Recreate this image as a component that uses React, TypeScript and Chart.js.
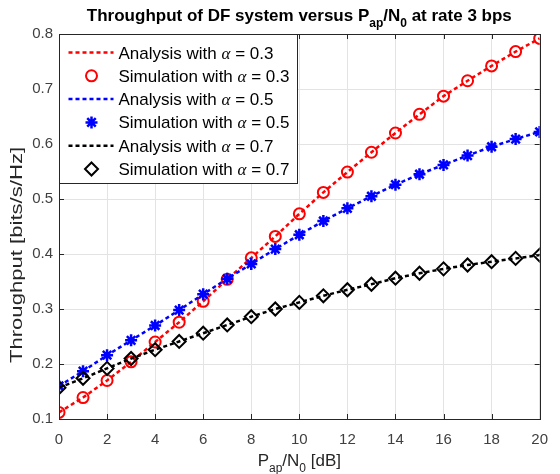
import React, { useEffect, useRef } from "react";
import { Chart, registerables } from "chart.js";

Chart.register(...registerables);

// SNR axis (dB) and throughput curves for each power-splitting factor
const snrDb = [0, 1, 2, 3, 4, 5, 6, 7, 8, 9, 10, 11, 12, 13, 14, 15, 16, 17, 18, 19, 20];
const throughputAlpha03 = [
  0.112, 0.139, 0.170, 0.204, 0.240, 0.276, 0.314, 0.354, 0.393, 0.432, 0.473,
  0.512, 0.549, 0.585, 0.620, 0.654, 0.687, 0.715, 0.742, 0.768, 0.792,
];
const throughputAlpha05 = [
  0.160, 0.187, 0.216, 0.243, 0.270, 0.298, 0.327, 0.355, 0.382, 0.409, 0.435,
  0.460, 0.483, 0.505, 0.526, 0.545, 0.562, 0.579, 0.595, 0.609, 0.622,
];
const throughputAlpha07 = [
  0.157, 0.174, 0.192, 0.210, 0.226, 0.241, 0.256, 0.271, 0.286, 0.300, 0.312,
  0.324, 0.335, 0.345, 0.356, 0.365, 0.373, 0.380, 0.386, 0.392, 0.398,
];
const alphaValues = ["0.3", "0.5", "0.7"];
const xTickStep = 2;
const yTickStep = 0.1;

const SANS = '"Liberation Sans", Arial, Helvetica, sans-serif';
const SERIF = '"Liberation Serif", "Times New Roman", serif';
const AXIS_COLOR = "#262626";

type Marker = "circle" | "star" | "rectRot";
type Series = { alpha: string; values: number[]; color: string; marker: Marker; radius: number; fill: string };

const series: Series[] = [
  { alpha: alphaValues[0], values: throughputAlpha03, color: "#ff0000", marker: "circle", radius: 5.5, fill: "rgba(0,0,0,0)" },
  { alpha: alphaValues[1], values: throughputAlpha05, color: "#0000ff", marker: "star", radius: 6, fill: "#0000ff" },
  { alpha: alphaValues[2], values: throughputAlpha07, color: "#000000", marker: "rectRot", radius: 6.5, fill: "rgba(0,0,0,0)" },
];

type Part = { text: string; sub?: boolean; serif?: boolean; italic?: boolean };

function fontFor(p: Part, size: number, subSize: number, weight: string) {
  return `${p.italic ? "italic " : ""}${weight} ${p.sub ? subSize : size}px ${p.serif ? SERIF : SANS}`;
}

// Draws text made of runs, some of them lowered as subscripts
function drawRich(
  ctx: CanvasRenderingContext2D,
  parts: Part[],
  x: number,
  y: number,
  size: number,
  subSize: number,
  weight: string,
  align: "center" | "left",
  subShift: number
) {
  ctx.save();
  ctx.textBaseline = "alphabetic";
  ctx.textAlign = "left";
  const widths = parts.map((p) => {
    ctx.font = fontFor(p, size, subSize, weight);
    return ctx.measureText(p.text).width;
  });
  const total = widths.reduce((a, b) => a + b, 0);
  let cx = align === "center" ? x - total / 2 : x;
  parts.forEach((p, i) => {
    ctx.font = fontFor(p, size, subSize, weight);
    ctx.fillText(p.text, cx, p.sub ? y + subShift : y);
    cx += widths[i];
  });
  ctx.restore();
}

function drawMarker(ctx: CanvasRenderingContext2D, s: Series, x: number, y: number) {
  ctx.save();
  ctx.strokeStyle = s.color;
  ctx.fillStyle = s.fill;
  ctx.lineWidth = 2;
  const r = s.radius;
  ctx.beginPath();
  if (s.marker === "circle") {
    ctx.arc(x, y, r, 0, Math.PI * 2);
    ctx.stroke();
  } else if (s.marker === "rectRot") {
    ctx.moveTo(x, y - r);
    ctx.lineTo(x + r, y);
    ctx.lineTo(x, y + r);
    ctx.lineTo(x - r, y);
    ctx.closePath();
    ctx.stroke();
  } else {
    ctx.lineWidth = 2.5;
    const d = r * Math.SQRT1_2;
    ctx.moveTo(x - r, y);
    ctx.lineTo(x + r, y);
    ctx.moveTo(x, y - r);
    ctx.lineTo(x, y + r);
    ctx.moveTo(x - d, y - d);
    ctx.lineTo(x + d, y + d);
    ctx.moveTo(x - d, y + d);
    ctx.lineTo(x + d, y - d);
    ctx.stroke();
  }
  ctx.restore();
}

const framePlugin = {
  id: "matlabFrame",
  afterDatasetsDraw(chart: any) {
    const { ctx, chartArea, scales } = chart;
    const { left, right, top, bottom } = chartArea;
    const xs = scales.x;
    const ys = scales.y;
    ctx.save();
    ctx.strokeStyle = AXIS_COLOR;
    ctx.lineWidth = 1;
    // inward tick marks on all four sides
    ctx.beginPath();
    const tl = 5;
    xs.ticks.forEach((t: any) => {
      const px = Math.round(xs.getPixelForValue(t.value)) + 0.5;
      ctx.moveTo(px, bottom);
      ctx.lineTo(px, bottom - tl);
      ctx.moveTo(px, top);
      ctx.lineTo(px, top + tl);
    });
    ys.ticks.forEach((t: any) => {
      const py = Math.round(ys.getPixelForValue(t.value)) + 0.5;
      ctx.moveTo(left, py);
      ctx.lineTo(left + tl, py);
      ctx.moveTo(right, py);
      ctx.lineTo(right - tl, py);
    });
    ctx.stroke();
    // axes box
    ctx.strokeRect(Math.round(left) + 0.5, Math.round(top) + 0.5, Math.round(right - left), Math.round(bottom - top));

    // legend
    const lx = Math.round(left) + 0.5;
    const ly = Math.round(top) + 0.5;
    const lw = 238;
    const lh = 149;
    ctx.fillStyle = "#ffffff";
    ctx.fillRect(lx, ly, lw, lh);
    ctx.strokeStyle = AXIS_COLOR;
    ctx.lineWidth = 1;
    ctx.strokeRect(lx, ly, lw, lh);
    const rowH = 23.3;
    series.forEach((s, i) => {
      const yA = ly + 18 + rowH * (2 * i);
      const yS = ly + 18 + rowH * (2 * i + 1);
      ctx.save();
      ctx.strokeStyle = s.color;
      ctx.lineWidth = 2.5;
      ctx.setLineDash([4, 3]);
      ctx.beginPath();
      ctx.moveTo(lx + 9, yA);
      ctx.lineTo(lx + 54, yA);
      ctx.stroke();
      ctx.restore();
      drawMarker(ctx, s, lx + 32, yS);
      ctx.fillStyle = "#000000";
      const tx = lx + 59;
      drawRich(ctx, [{ text: "Analysis with " }, { text: "α", serif: true, italic: true }, { text: " = " + s.alpha }], tx, yA + 6, 17, 17, "normal", "left", 0);
      drawRich(ctx, [{ text: "Simulation with " }, { text: "α", serif: true, italic: true }, { text: " = " + s.alpha }], tx, yS + 6, 17, 17, "normal", "left", 0);
    });
    ctx.restore();
  },
  afterDraw(chart: any) {
    const { ctx, chartArea } = chart;
    const cx = (chartArea.left + chartArea.right) / 2;
    ctx.save();
    ctx.fillStyle = "#000000";
    drawRich(
      ctx,
      [
        { text: "Throughput of DF system versus P" },
        { text: "ap", sub: true },
        { text: "/N" },
        { text: "0", sub: true },
        { text: " at rate 3 bps" },
      ],
      cx,
      21,
      17,
      12,
      "bold",
      "center",
      6
    );
    ctx.fillStyle = AXIS_COLOR;
    drawRich(
      ctx,
      [{ text: "P" }, { text: "ap", sub: true }, { text: "/N" }, { text: "0", sub: true }, { text: " [dB]" }],
      cx,
      466,
      17,
      12,
      "normal",
      "center",
      6
    );
    // vertical axis title, drawn rotated and slightly widened along its run
    ctx.translate(22, 255);
    ctx.rotate(-Math.PI / 2);
    ctx.scale(1.3, 1);
    drawRich(ctx, [{ text: "Throughput [bits/s/Hz]" }], 0, 0, 17, 17, "normal", "center", 0);
    ctx.restore();
  },
};

export default function App() {
  const canvasRef = useRef<HTMLCanvasElement | null>(null);

  useEffect(() => {
    const canvas = canvasRef.current;
    if (!canvas) return;
    const datasets: any[] = [];
    series.forEach((s, i) => {
      const pts = snrDb.map((x, k) => ({ x, y: s.values[k] }));
      datasets.push({
        label: "Analysis with α = " + s.alpha,
        data: pts,
        showLine: true,
        borderColor: s.color,
        borderWidth: 2.5,
        borderDash: [4, 3],
        pointRadius: 0,
        fill: false,
        tension: 0,
        order: 5 - 2 * i,
      });
      datasets.push({
        label: "Simulation with α = " + s.alpha,
        data: pts,
        showLine: false,
        pointStyle: s.marker,
        pointRadius: s.radius,
        pointBorderWidth: s.marker === "star" ? 2.5 : 2,
        pointBorderColor: s.color,
        pointBackgroundColor: s.fill,
        order: 4 - 2 * i,
      });
    });

    const chart = new Chart(canvas, {
      type: "scatter",
      data: { datasets },
      options: {
        animation: false,
        responsive: false,
        devicePixelRatio: 1,
        layout: { padding: { top: 34, right: 10, left: 0, bottom: 0 } },
        plugins: { legend: { display: false }, tooltip: { enabled: false }, title: { display: false } },
        scales: {
          x: {
            type: "linear",
            min: 0,
            max: 20,
            ticks: {
              stepSize: xTickStep,
              color: "#404040",
              font: { family: SANS, size: 15 },
              padding: 12,
              maxRotation: 0,
              autoSkip: false,
              callback: (v: any) => String(v),
            },
            grid: { color: "#e3e3e3", drawTicks: false, lineWidth: 1 },
            border: { display: false },
            afterFit: (s: any) => {
              s.height = 55;
            },
          },
          y: {
            type: "linear",
            min: 0.1,
            max: 0.8,
            ticks: {
              stepSize: yTickStep,
              color: "#404040",
              font: { family: SANS, size: 15 },
              padding: 6,
              callback: (v: any) => Number(v).toFixed(1),
            },
            grid: { color: "#e3e3e3", drawTicks: false, lineWidth: 1 },
            border: { display: false },
            afterFit: (s: any) => {
              s.width = 59;
            },
          },
        },
      } as any,
      plugins: [framePlugin],
    });
    return () => chart.destroy();
  }, []);

  return (
    <div style={{ position: "absolute", left: 0, top: 0, width: 560, height: 474, background: "#ffffff" }}>
      <canvas ref={canvasRef} width={560} height={474} style={{ display: "block" }} />
    </div>
  );
}
